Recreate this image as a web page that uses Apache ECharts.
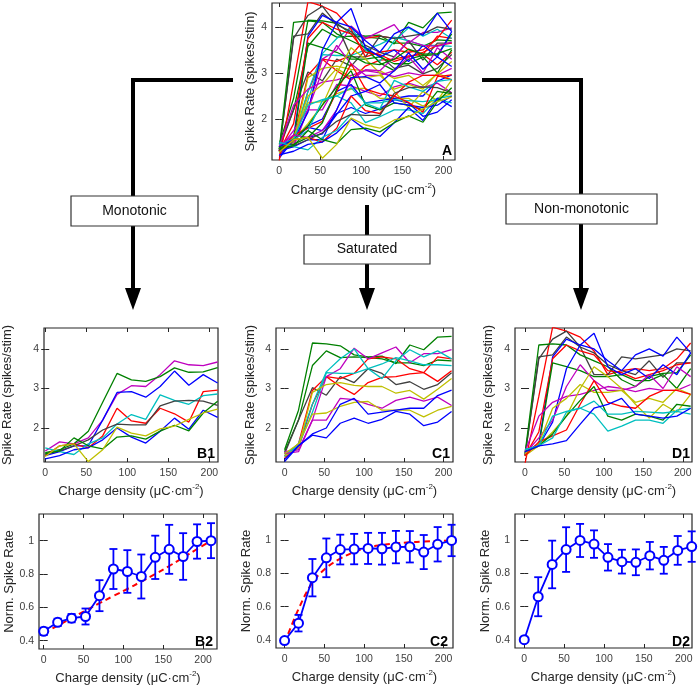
<!DOCTYPE html>
<html><head><meta charset="utf-8">
<script src="https://cdn.jsdelivr.net/npm/echarts@6/dist/echarts.min.js"></script>
<style>html,body{margin:0;padding:0;background:#fff}#c{width:700px;height:686px}</style>
</head><body><div id="c"></div>
<script>
// ---------- data ----------
const charge = [0,17.5,35,52.5,70,87.5,105,122.5,140,157.5,175,192.5,210];
const xTicks = [0,50,100,150,200];
const rateTicks = [2,3,4];
const normTicks = [0.4,0.6,0.8,1];

const monoColors = ['m','g','b','r','c','k','b','g','y'];
const monoRates = [
[1.42,1.65,1.6,1.75,2.2,2.85,3.07,3.05,3.35,3.7,3.6,3.58,3.67],
[1.38,1.45,1.6,1.92,2.65,3.38,3.22,3.18,3.3,3.52,3.41,3.42,3.53],
[1.3,1.4,1.55,1.55,2.2,2.9,2.92,2.78,3.05,3.44,3.08,3.35,3.14],
[1.3,1.55,1.6,1.5,1.8,2.5,2.18,2.12,2.5,2.36,2.15,2.92,2.96],
[1.5,1.4,1.33,1.6,1.75,2.1,2.34,2.22,2.84,2.7,2.6,2.82,2.86],
[1.33,1.42,1.55,1.7,1.95,2.1,2.08,2.08,2.56,2.68,2.7,2.68,2.57],
[1.22,1.3,1.45,1.5,1.7,2.0,1.77,1.62,1.92,2.25,1.97,2.45,2.27],
[1.35,1.42,1.75,1.55,1.47,1.77,1.8,1.72,1.92,2.07,1.93,2.38,2.68],
[1.28,1.55,1.6,1.15,1.45,2.02,1.87,1.8,1.98,2.05,2.22,2.38,2.48]
];

const satColors = ['g','g','k','r','r','m','c','c','y','m','y','b','b'];
const satRates = [
[1.45,2.45,4.15,4.13,4.08,3.85,3.8,3.82,3.63,4.1,3.98,4.3,4.32],
[1.4,2.2,3.58,3.95,3.78,3.8,3.78,3.75,3.65,3.65,3.58,3.72,3.7],
[1.35,2.2,3.02,2.83,3.3,3.15,3.5,3.38,3.1,3.17,2.98,3.1,3.4],
[1.3,1.6,2.95,3.3,3.25,3.38,3.75,3.8,3.75,3.5,3.4,3.18,3.45],
[1.25,1.5,2.6,3.3,3.05,2.85,3.15,3.28,3.3,3.37,3.4,3.8,3.75],
[1.4,1.45,2.2,3.3,3.5,4.02,3.75,3.9,4.05,3.65,3.88,3.88,3.98],
[1.3,1.6,2.6,3.42,3.75,4.0,3.5,3.25,3.7,3.98,3.8,3.95,3.75],
[1.28,1.55,2.4,3.4,3.38,3.38,3.5,3.62,3.78,3.7,3.6,3.6,3.58],
[1.3,1.5,2.9,3.1,3.15,3.08,3.05,3.05,2.88,2.95,2.73,2.98,3.25],
[1.35,1.4,2.2,2.2,2.75,2.72,2.6,2.5,2.7,2.78,2.68,2.78,2.57],
[1.35,1.6,2.35,2.38,2.55,2.65,2.67,2.45,2.45,2.45,2.28,2.45,2.55],
[1.2,1.55,1.85,2.0,2.6,2.75,2.35,2.4,2.45,2.5,2.5,2.82,2.96],
[1.15,1.55,1.82,1.75,2.12,2.25,2.12,2.22,2.42,2.35,2.06,2.15,2.42]
];

const nonColors = ['r','k','k','g','b','r','g','b','m','m','y','y','r','g','c','c','b'];
const nonRates = [
[1.1,2.8,4.55,4.45,4.3,3.95,3.35,3.45,3.5,3.45,3.5,3.75,4.15],
[1.3,3.75,4.25,4.45,4.05,3.35,3.35,3.8,3.75,3.8,3.85,4.0,3.95],
[1.3,3.8,3.85,4.3,4.05,3.9,3.6,3.45,3.35,3.7,3.28,3.65,3.65],
[1.35,4.1,4.13,4.1,3.85,3.7,3.55,3.22,3.05,3.3,3.38,3.4,3.85],
[1.4,1.6,3.8,4.25,4.1,4.0,3.7,3.45,3.85,4.0,3.82,4.3,3.9],
[1.3,1.9,3.75,4.1,3.95,3.85,3.45,3.4,3.25,3.35,3.45,3.6,3.65],
[1.4,1.55,3.65,3.55,3.45,3.3,3.3,3.35,3.2,3.2,3.35,3.0,3.5],
[1.45,1.55,2.15,3.5,4.1,4.4,3.55,3.35,3.5,3.25,3.6,3.35,3.9],
[1.35,1.75,2.2,3.05,3.6,3.2,2.95,2.95,3.05,3.35,3.0,3.55,3.3],
[1.4,2.3,2.65,2.8,2.85,2.95,3.05,3.0,2.92,3.0,2.95,2.95,3.1],
[1.35,1.6,2.5,2.75,3.1,2.9,2.9,2.95,2.65,2.75,2.65,3.0,2.85],
[1.3,1.55,1.9,2.3,3.0,3.55,3.3,3.0,2.6,2.25,2.6,2.4,2.85],
[1.3,1.65,1.8,1.95,2.6,3.2,2.65,2.55,2.5,2.8,2.95,2.95,2.85],
[1.4,1.55,1.85,2.3,2.7,3.05,2.3,2.2,2.35,2.3,2.2,2.6,2.55],
[1.45,1.55,2.3,2.42,2.5,2.68,2.35,2.35,2.42,2.4,2.38,2.42,2.35],
[1.45,1.55,1.75,2.4,2.5,2.35,1.92,2.05,2.2,2.2,2.12,2.45,2.5],
[1.4,1.55,1.6,1.68,2.1,2.5,2.6,2.75,2.35,2.3,2.25,2.3,2.5]
];

const monoMean = [0.456,0.51,0.535,0.545,0.67,0.83,0.815,0.785,0.9,0.948,0.905,0.995,1.0];
const monoErr  = [0.022,0.022,0.025,0.048,0.093,0.12,0.128,0.132,0.13,0.147,0.14,0.103,0.105];
const monoFit  = [0.445,0.49,0.535,0.58,0.625,0.668,0.71,0.755,0.8,0.848,0.898,0.95,1.0];

const satMean = [0.395,0.5,0.775,0.895,0.945,0.948,0.952,0.95,0.96,0.962,0.93,0.977,1.0];
const satErr  = [0.015,0.05,0.113,0.117,0.09,0.092,0.094,0.096,0.098,0.095,0.103,0.104,0.095];
const satFit  = [0.38,0.585,0.745,0.835,0.89,0.93,0.958,0.972,0.982,0.989,0.993,0.997,1.0];

const nonMean = [0.4,0.66,0.855,0.945,1.0,0.978,0.898,0.872,0.868,0.908,0.88,0.94,0.963];
const nonErr  = [0.01,0.118,0.144,0.135,0.1,0.083,0.08,0.072,0.078,0.083,0.081,0.087,0.092];

const groupLabels = ['Monotonic','Saturated','Non-monotonic'];

// ---------- styling / layout ----------
const FF = '"Liberation Sans", Arial, Helvetica, sans-serif';
const colorMap = {b:'#0000ff', g:'#008000', r:'#ff0000', c:'#00bfbf', m:'#bf00bf', y:'#bfbf00', k:'#404040'};
const TXT = '#262626';
const xName = '{n|Charge density (μC·cm}{s|-2}{n|)}';
const rich = {
  n:{fontSize:13, fontFamily:FF, color:TXT, lineHeight:16},
  s:{fontSize:8, fontFamily:FF, color:TXT, lineHeight:9, verticalAlign:'top'}
};

const panels = [
  {grid:{left:272, top:3, width:183, height:157}, x:[-8.8,214], y:[1.11,4.52], yt:rateTicks, yName:'Spike Rate (spikes/stim)', yGap:15, xGap:22, tag:'A', tp:[452,158]},
  {grid:{left:43, top:328, width:175, height:134}, x:[-1.5,210.5], y:[1.14,4.53], yt:rateTicks, yName:'Spike Rate (spikes/stim)', yGap:30, xGap:21, tag:'B1', tp:[215,461]},
  {grid:{left:276, top:328, width:177, height:134}, x:[-10.8,211.8], y:[1.14,4.53], yt:rateTicks, yName:'Spike Rate (spikes/stim)', yGap:19, xGap:21, tag:'C1', tp:[450,461]},
  {grid:{left:515, top:328, width:177, height:134}, x:[-12.7,211.7], y:[1.14,4.53], yt:rateTicks, yName:'Spike Rate (spikes/stim)', yGap:20, xGap:21, tag:'D1', tp:[690,461]},
  {grid:{left:39, top:514, width:178, height:135}, x:[-5.9,217.5], y:[0.35,1.16], yt:normTicks, yName:'Norm. Spike Rate', yGap:23, xGap:21, tag:'B2', tp:[213,649]},
  {grid:{left:276, top:514, width:177, height:134}, x:[-10.8,211.8], y:[0.35,1.16], yt:normTicks, yName:'Norm. Spike Rate', yGap:19, xGap:21, tag:'C2', tp:[448,649]},
  {grid:{left:515, top:514, width:177, height:134}, x:[-11.6,210.4], y:[0.35,1.16], yt:normTicks, yName:'Norm. Spike Rate', yGap:19, xGap:21, tag:'D2', tp:[690,649]}
];

const grid = [], xAxis = [], yAxis = [], series = [];
panels.forEach((p, g) => {
  grid.push(Object.assign({show:true, borderColor:'#262626', borderWidth:1.2, backgroundColor:'#fff'}, p.grid));
  const tickStyle = {show:true, inside:true, length:4, lineStyle:{color:'#262626', width:1}};
  xAxis.push({gridIndex:g, type:'value', min:p.x[0], max:p.x[1], position:'bottom',
    axisLine:{show:false}, splitLine:{show:false},
    axisTick:Object.assign({customValues:xTicks}, tickStyle),
    axisLabel:{customValues:xTicks, fontSize:10.5, fontFamily:FF, color:'#404040', margin:6},
    name:xName, nameLocation:'middle', nameGap:p.xGap, nameTextStyle:{rich:rich}});
  xAxis.push({gridIndex:g, type:'value', min:p.x[0], max:p.x[1], position:'top',
    axisLine:{show:false}, splitLine:{show:false}, axisLabel:{show:false},
    axisTick:Object.assign({customValues:xTicks}, tickStyle)});
  yAxis.push({gridIndex:g, type:'value', min:p.y[0], max:p.y[1], position:'left',
    axisLine:{show:false}, splitLine:{show:false},
    axisTick:Object.assign({customValues:p.yt}, tickStyle),
    axisLabel:{customValues:p.yt, fontSize:10.5, fontFamily:FF, color:'#404040', margin:5},
    name:p.yName, nameLocation:'middle', nameGap:p.yGap, nameRotate:90,
    nameTextStyle:{fontSize:13, fontFamily:FF, color:TXT}});
  yAxis.push({gridIndex:g, type:'value', min:p.y[0], max:p.y[1], position:'right',
    axisLine:{show:false}, splitLine:{show:false}, axisLabel:{show:false},
    axisTick:Object.assign({customValues:p.yt}, tickStyle)});
});

function addLines(g, rates, colors) {
  rates.forEach((r, i) => {
    series.push({type:'line', xAxisIndex:2*g, yAxisIndex:2*g, showSymbol:false, silent:true,
      data: charge.map((x, j) => [x, r[j]]),
      lineStyle:{color:colorMap[colors[i]], width:1.3}, itemStyle:{color:colorMap[colors[i]]}});
  });
}
// Panel A: all cells
addLines(0, [...satRates, ...nonRates, ...monoRates], [...satColors, ...nonColors, ...monoColors]);
addLines(1, monoRates, monoColors);
addLines(2, satRates, satColors);
addLines(3, nonRates, nonColors);

const BLUE = '#0000ff';
function addSummary(g, mean, err, fit) {
  if (fit) {
    series.push({type:'line', xAxisIndex:2*g, yAxisIndex:2*g, showSymbol:false, silent:true, smooth:0.4,
      data: charge.map((x, j) => [x, fit[j]]), z:3,
      lineStyle:{color:'#ff0000', width:2, type:[6,4]}});
  }
  series.push({type:'custom', xAxisIndex:2*g, yAxisIndex:2*g, silent:true, z:4,
    data: charge.map((x, j) => [x, mean[j]-err[j], mean[j]+err[j]]),
    encode:{x:0, y:[1,2]},
    renderItem:(params, api) => {
      const x = api.value(0);
      const a = api.coord([x, api.value(2)]), b = api.coord([x, api.value(1)]);
      const w = 4, st = {stroke:BLUE, lineWidth:1.8};
      return {type:'group', children:[
        {type:'line', shape:{x1:a[0], y1:a[1], x2:b[0], y2:b[1]}, style:st},
        {type:'line', shape:{x1:a[0]-w, y1:a[1], x2:a[0]+w, y2:a[1]}, style:st},
        {type:'line', shape:{x1:b[0]-w, y1:b[1], x2:b[0]+w, y2:b[1]}, style:st}
      ]};
    }});
  series.push({type:'line', xAxisIndex:2*g, yAxisIndex:2*g, silent:true, z:5,
    symbol:'emptyCircle', symbolSize:9, showSymbol:true,
    data: charge.map((x, j) => [x, mean[j]]),
    lineStyle:{color:BLUE, width:1.8}, itemStyle:{color:BLUE, borderColor:BLUE, borderWidth:1.6}});
}
addSummary(4, monoMean, monoErr, monoFit);
addSummary(5, satMean, satErr, satFit);
addSummary(6, nonMean, nonErr, null);

// ---------- diagram (connectors, boxes, panel tags) ----------
const graphic = [];
const conn = {stroke:'#000', lineWidth:4, lineJoin:'miter', lineCap:'butt'};
graphic.push({type:'polyline', shape:{points:[[233,80],[133,80],[133,292]]}, style:conn, z:10});
graphic.push({type:'polyline', shape:{points:[[482,80],[581,80],[581,292]]}, style:conn, z:10});
graphic.push({type:'polyline', shape:{points:[[367,205],[367,292]]}, style:conn, z:10});
[[133,310],[367,310],[581,310]].forEach(t => {
  graphic.push({type:'polygon', shape:{points:[[t[0]-8,288],[t[0]+8,288],[t[0],t[1]]]}, style:{fill:'#000'}, z:11});
});
const boxes = [[71,196,127,30],[304,235,126,29],[506,194,151,30]];
boxes.forEach((b, i) => {
  graphic.push({type:'rect', shape:{x:b[0], y:b[1], width:b[2], height:b[3]},
    style:{fill:'#fff', stroke:'#333', lineWidth:1.2}, z:12});
  graphic.push({type:'text', x:b[0]+b[2]/2, y:b[1]+b[3]/2, z:13,
    style:{text:groupLabels[i], fill:'#111', font:'14px ' + FF, align:'center', verticalAlign:'middle'}});
});
panels.forEach(p => {
  graphic.push({type:'text', x:p.tp[0], y:p.tp[1], z:14,
    style:{text:p.tag, fill:'#000', font:'bold 14px ' + FF, align:'right', verticalAlign:'bottom'}});
});

const chart = echarts.init(document.getElementById('c'), null, {renderer:'canvas'});
chart.setOption({animation:false, backgroundColor:'#fff', grid, xAxis, yAxis, series, graphic});
</script></body></html>
